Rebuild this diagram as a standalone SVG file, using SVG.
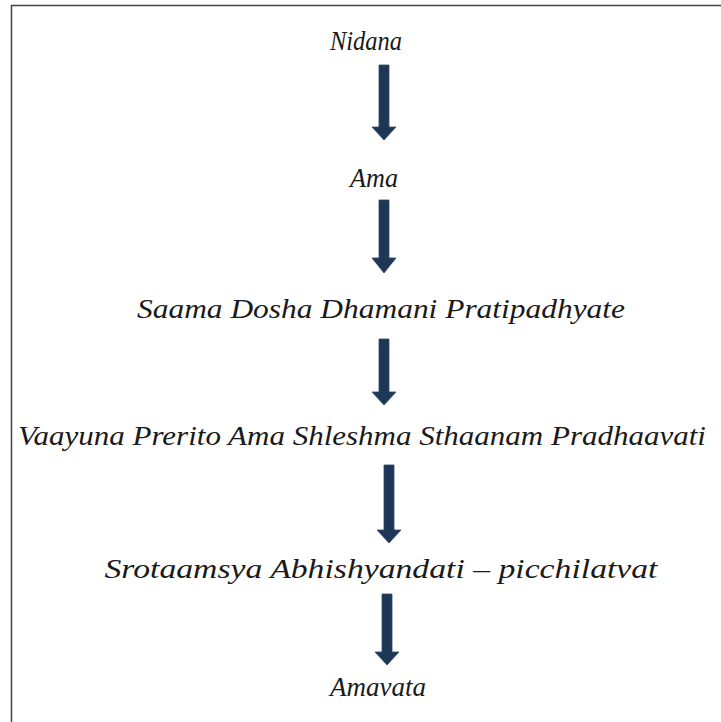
<svg xmlns="http://www.w3.org/2000/svg" width="721" height="722" viewBox="0 0 721 722">
<style>
.t{font-family:'Liberation Serif','Times New Roman','DejaVu Serif',serif;font-style:italic;font-size:27px;fill:#1a1a1a;text-anchor:middle}
.a{fill:#1f3756;stroke:#2e4a6b;stroke-width:0.8}
</style>
<rect width="721" height="722" fill="#ffffff"/>
<path d="M721,5.5 H11.5 V722" fill="none" stroke="#444" stroke-width="1.5"/>
<g id="connectors">
<path class="a" d="M379,65 H389 V127 H396 L384,140 L372,127 H379 Z"/>
<path class="a" d="M379,200 H389 V258 H396 L384,273 L372,258 H379 Z"/>
<path class="a" d="M379,339 H389 V392 H396 L384,405 L372,392 H379 Z"/>
<path class="a" d="M384,465 H394 V530 H401 L389,543 L377,530 H384 Z"/>
<path class="a" d="M382,594 H392 V652 H399 L387,665 L375,652 H382 Z"/>
</g>
<g id="n1"><text class="t" x="366" y="50" textLength="72" lengthAdjust="spacingAndGlyphs">Nidana</text></g>
<g id="n2"><text class="t" x="374" y="187" textLength="48" lengthAdjust="spacingAndGlyphs">Ama</text></g>
<g id="n3"><text class="t" x="381" y="318" textLength="488" lengthAdjust="spacingAndGlyphs">Saama Dosha Dhamani Pratipadhyate</text></g>
<g id="n4"><text class="t" x="362" y="445" textLength="688" lengthAdjust="spacingAndGlyphs">Vaayuna Prerito Ama Shleshma Sthaanam Pradhaavati</text></g>
<g id="n5"><text class="t" x="381" y="578" textLength="553" lengthAdjust="spacingAndGlyphs">Srotaamsya Abhishyandati – picchilatvat</text></g>
<g id="n6"><text class="t" x="378" y="696" textLength="96" lengthAdjust="spacingAndGlyphs">Amavata</text></g>
</svg>
